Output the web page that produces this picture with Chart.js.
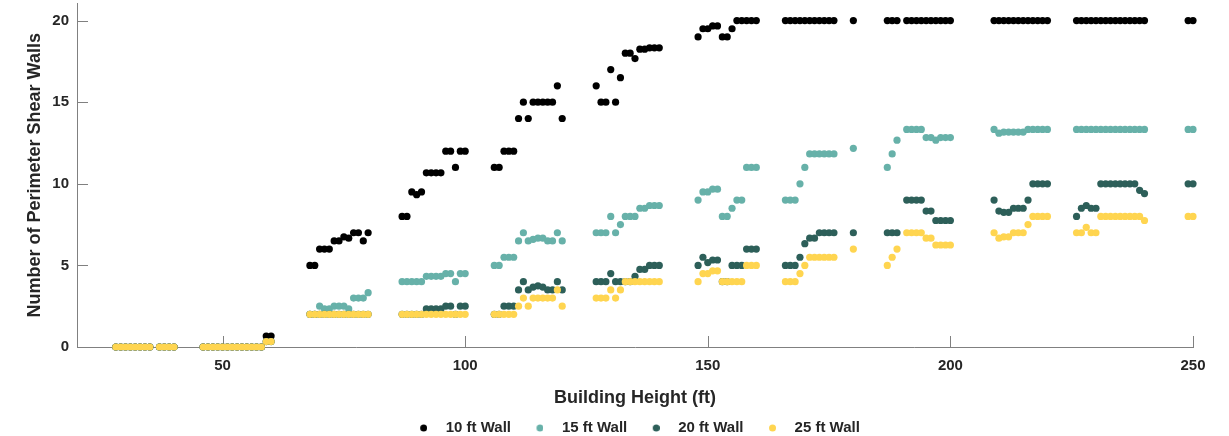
<!DOCTYPE html>
<html>
<head>
<meta charset="utf-8">
<script src="https://cdn.jsdelivr.net/npm/chart.js@4.4.1/dist/chart.umd.min.js"></script>
<style>
  html, body { margin: 0; padding: 0; background: #fff; }
  #box { width: 1229px; height: 436px; }
</style>
</head>
<body>
<div id="box"><canvas id="wallchart"></canvas></div>
<script>
// building heights (ft), shared by all four series
const heights = [
  28, 29, 30, 31, 32, 33, 34, 35,
  37, 38, 39, 40,
  46, 47, 48, 49, 50, 51, 52, 53, 54, 55, 56, 57, 58,
  59, 60,
  68, 69, 70, 71, 72, 73, 74, 75, 76, 77, 78, 79, 80,
  87, 88, 89, 90, 91, 92, 93, 94, 95, 96, 97, 98, 99, 100,
  106, 107, 108, 109, 110, 111, 112, 113, 114, 115, 116, 117, 118, 119, 120,
  127, 128, 129, 130, 131, 132, 133, 134, 135, 136, 137, 138, 139, 140,
  148, 149, 150, 151, 152, 153, 154, 155, 156, 157, 158, 159, 160,
  166, 167, 168, 169, 170, 171, 172, 173, 174, 175, 176,
  180,
  187, 188, 189, 191, 192, 193, 194, 195, 196, 197, 198, 199, 200,
  209, 210, 211, 212, 213, 214, 215, 216, 217, 218, 219, 220,
  226, 227, 228, 229, 230, 231, 232, 233, 234, 235, 236, 237, 238, 239, 240,
  249, 250
];

const wall10 = [
  0, 0, 0, 0, 0, 0, 0, 0,
  0, 0, 0, 0,
  0, 0, 0, 0, 0, 0, 0, 0, 0, 0, 0, 0, 0,
  0.67, 0.67,
  5, 5, 6, 6, 6, 6.5, 6.5, 6.75, 6.67, 7, 7, 6.5, 7,
  8, 8, 9.5, 9.33, 9.5, 10.67, 10.67, 10.67, 10.67, 12, 12, 11, 12, 12,
  11, 11, 12, 12, 12, 14, 15, 14, 15, 15, 15, 15, 15, 16, 14,
  16, 15, 15, 17, 15, 16.5, 18, 18, 17.67, 18.25, 18.25, 18.33, 18.33, 18.33,
  19, 19.5, 19.5, 19.67, 19.67, 19, 19, 19.5, 20, 20, 20, 20, 20,
  20, 20, 20, 20, 20, 20, 20, 20, 20, 20, 20,
  20,
  20, 20, 20, 20, 20, 20, 20, 20, 20, 20, 20, 20, 20,
  20, 20, 20, 20, 20, 20, 20, 20, 20, 20, 20, 20,
  20, 20, 20, 20, 20, 20, 20, 20, 20, 20, 20, 20, 20, 20, 20,
  20, 20
];

const wall15 = [
  0, 0, 0, 0, 0, 0, 0, 0,
  0, 0, 0, 0,
  0, 0, 0, 0, 0, 0, 0, 0, 0, 0, 0, 0, 0,
  0.33, 0.33,
  2, 2, 2.5, 2.33, 2.33, 2.5, 2.5, 2.5, 2.33, 3, 3, 3, 3.33,
  4, 4, 4, 4, 4, 4.33, 4.33, 4.33, 4.33, 4.5, 4.5, 4, 4.5, 4.5,
  5, 5, 5.5, 5.5, 5.5, 6.5, 7, 6.5, 6.6, 6.67, 6.67, 6.5, 6.5, 7, 6.5,
  7, 7, 7, 8, 7, 7.5, 8, 8, 8, 8.5, 8.5, 8.67, 8.67, 8.67,
  9, 9.5, 9.5, 9.67, 9.67, 8, 8, 8.5, 9, 9, 11, 11, 11,
  9, 9, 9, 10, 11, 11.83, 11.83, 11.83, 11.83, 11.83, 11.83,
  12.17,
  11, 11.83, 12.67, 13.33, 13.33, 13.33, 13.33, 12.83, 12.83, 12.67, 12.83, 12.83, 12.83,
  13.33, 13.1, 13.17, 13.17, 13.17, 13.17, 13.17, 13.33, 13.33, 13.33, 13.33, 13.33,
  13.33, 13.33, 13.33, 13.33, 13.33, 13.33, 13.33, 13.33, 13.33, 13.33, 13.33, 13.33, 13.33, 13.33, 13.33,
  13.33, 13.33
];

const wall20 = [
  0, 0, 0, 0, 0, 0, 0, 0,
  0, 0, 0, 0,
  0, 0, 0, 0, 0, 0, 0, 0, 0, 0, 0, 0, 0,
  0.33, 0.33,
  2, 2, 2, 2, 2, 2, 2, 2, 2, 2, 2, 2, 2,
  2, 2, 2, 2, 2, 2.33, 2.33, 2.33, 2.33, 2.5, 2.5, 2, 2.5, 2.5,
  2, 2, 2.5, 2.5, 2.5, 3.5, 4, 3.5, 3.67, 3.75, 3.67, 3.5, 3.5, 4, 3.5,
  4, 4, 4, 4.5, 4, 4, 4, 4, 4.33, 4.75, 4.75, 5, 5, 5,
  5, 5.5, 5.17, 5.33, 5.33, 4, 4, 5, 5, 5, 6, 6, 6,
  5, 5, 5, 5.5, 6.33, 6.67, 6.67, 7, 7, 7, 7,
  7,
  7, 7, 7, 9, 9, 9, 9, 8.33, 8.33, 7.75, 7.75, 7.75, 7.75,
  9, 8.33, 8.25, 8.25, 8.5, 8.5, 8.5, 9, 10, 10, 10, 10,
  8, 8.5, 8.67, 8.5, 8.5, 10, 10, 10, 10, 10, 10, 10, 10, 9.6, 9.4,
  10, 10
];

const wall25 = [
  0, 0, 0, 0, 0, 0, 0, 0,
  0, 0, 0, 0,
  0, 0, 0, 0, 0, 0, 0, 0, 0, 0, 0, 0, 0,
  0.33, 0.33,
  2, 2, 2, 2, 2, 2, 2, 2, 2, 2, 2, 2, 2,
  2, 2, 2, 2, 2, 2, 2, 2, 2, 2, 2, 2, 2, 2,
  2, 2, 2, 2, 2, 2.5, 3, 2.5, 3, 3, 3, 3, 3, 3.5, 2.5,
  3, 3, 3, 3.5, 3, 3.5, 4, 4, 4, 4, 4, 4, 4, 4,
  4, 4.5, 4.5, 4.67, 4.67, 4, 4, 4, 4, 4, 5, 5, 5,
  4, 4, 4, 4.5, 5, 5.5, 5.5, 5.5, 5.5, 5.5, 5.5,
  6,
  5, 5.5, 6, 7, 7, 7, 7, 6.67, 6.67, 6.25, 6.25, 6.25, 6.25,
  7, 6.67, 6.75, 6.75, 7, 7, 7, 7.5, 8, 8, 8, 8,
  7, 7, 7.33, 7, 7, 8, 8, 8, 8, 8, 8, 8, 8, 8, 7.75,
  8, 8
];

const seriesNames = ['10 ft Wall', '15 ft Wall', '20 ft Wall', '25 ft Wall'];
const seriesColors = ['#000000', '#67b1a9', '#2d5f59', '#ffd550'];
const xTicks = [50, 100, 150, 200, 250];
const yTicks = [0, 5, 10, 15, 20];

const font = "'Liberation Sans', Arial, Helvetica, sans-serif";
const textColor = '#262626';
const axisColor = '#808080';

// legend marker: dot offset to the right inside a small canvas
function legendDot(color) {
  const c = document.createElement('canvas');
  c.width = 18;
  c.height = 8;
  const g = c.getContext('2d');
  g.fillStyle = color;
  g.beginPath();
  g.arc(14.5, 4, 3.5, 0, Math.PI * 2);
  g.fill();
  return c;
}
const dots = seriesColors.map(legendDot);

function points(values) {
  return heights.map((h, i) => ({x: h, y: values[i]}));
}

// inward tick marks like the original figure
const inwardTicks = {
  id: 'inwardTicks',
  afterLayout(chart) {
    // nudge the legend a little to the left
    chart.legend.left -= 6;
    chart.legend.right -= 6;
  },
  beforeDatasetsDraw(chart) {
    const {ctx, chartArea, scales} = chart;
    ctx.save();
    ctx.strokeStyle = axisColor;
    ctx.lineWidth = 1;
    scales.x.ticks.forEach(t => {
      const px = Math.round(scales.x.getPixelForValue(t.value)) + 0.5;
      ctx.beginPath();
      ctx.moveTo(px, chartArea.bottom);
      ctx.lineTo(px, chartArea.bottom - 11);
      ctx.stroke();
    });
    scales.y.ticks.forEach(t => {
      const py = Math.round(scales.y.getPixelForValue(t.value)) + 0.5;
      ctx.beginPath();
      ctx.moveTo(chartArea.left, py);
      ctx.lineTo(chartArea.left + 11, py);
      ctx.stroke();
    });
    ctx.restore();
  }
};

const ctx = document.getElementById('wallchart').getContext('2d');
const wallChart = new Chart(ctx, {
  type: 'scatter',
  data: {
    datasets: [wall10, wall15, wall20, wall25].map((vals, i) => ({
      label: seriesNames[i],
      data: points(vals),
      backgroundColor: seriesColors[i],
      borderWidth: 0,
      pointRadius: 3.6,
      pointHoverRadius: 3.6,
      order: 4 - i,
      clip: false
    }))
  },
  options: {
    responsive: true,
    maintainAspectRatio: false,
    animation: false,
    layout: { padding: { left: 0, right: 36, top: 0, bottom: -9.5 } },
    plugins: {
      tooltip: { enabled: false },
      legend: {
        position: 'bottom',
        fullSize: false,
        labels: {
          usePointStyle: true,
          pointStyleWidth: 40,
          boxHeight: 8,
          padding: 3.5,
          color: textColor,
          font: { family: font, size: 15, weight: 'bold' },
          sort: (a, b) => a.datasetIndex - b.datasetIndex,
          generateLabels(chart) {
            const items = Chart.defaults.plugins.legend.labels.generateLabels(chart);
            items.forEach(it => { it.pointStyle = dots[it.datasetIndex]; });
            return items;
          }
        }
      }
    },
    scales: {
      x: {
        type: 'linear',
        min: 20,
        max: 250,
        afterBuildTicks: s => { s.ticks = xTicks.map(v => ({value: v})); },
        afterFit: s => { s.height = 70; s.paddingLeft = 0; s.paddingRight = 0; },
        grid: { drawOnChartArea: false, drawTicks: false },
        border: { display: true, color: axisColor, width: 1 },
        ticks: {
          padding: 10,
          color: textColor,
          font: { family: font, size: 15, weight: 'bold' }
        },
        title: {
          display: true,
          text: 'Building Height (ft)',
          color: textColor,
          font: { family: font, size: 18, weight: 'bold' },
          padding: { top: 0, bottom: 8 }
        }
      },
      y: {
        type: 'linear',
        min: 0,
        max: 21.04,
        afterBuildTicks: s => { s.ticks = yTicks.map(v => ({value: v})); },
        afterFit: s => { s.width = 77; s.paddingTop = 0; s.paddingBottom = 0; },
        grid: { drawOnChartArea: false, drawTicks: false },
        border: { display: true, color: axisColor, width: 1 },
        ticks: {
          padding: 8,
          color: textColor,
          font: { family: font, size: 15, weight: 'bold' }
        },
        title: {
          display: true,
          text: 'Number of Perimeter Shear Walls',
          color: textColor,
          font: { family: font, size: 18, weight: 'bold' },
          padding: { top: 24.7, bottom: 0 }
        }
      }
    }
  },
  plugins: [inwardTicks]
});
</script>
</body>
</html>
